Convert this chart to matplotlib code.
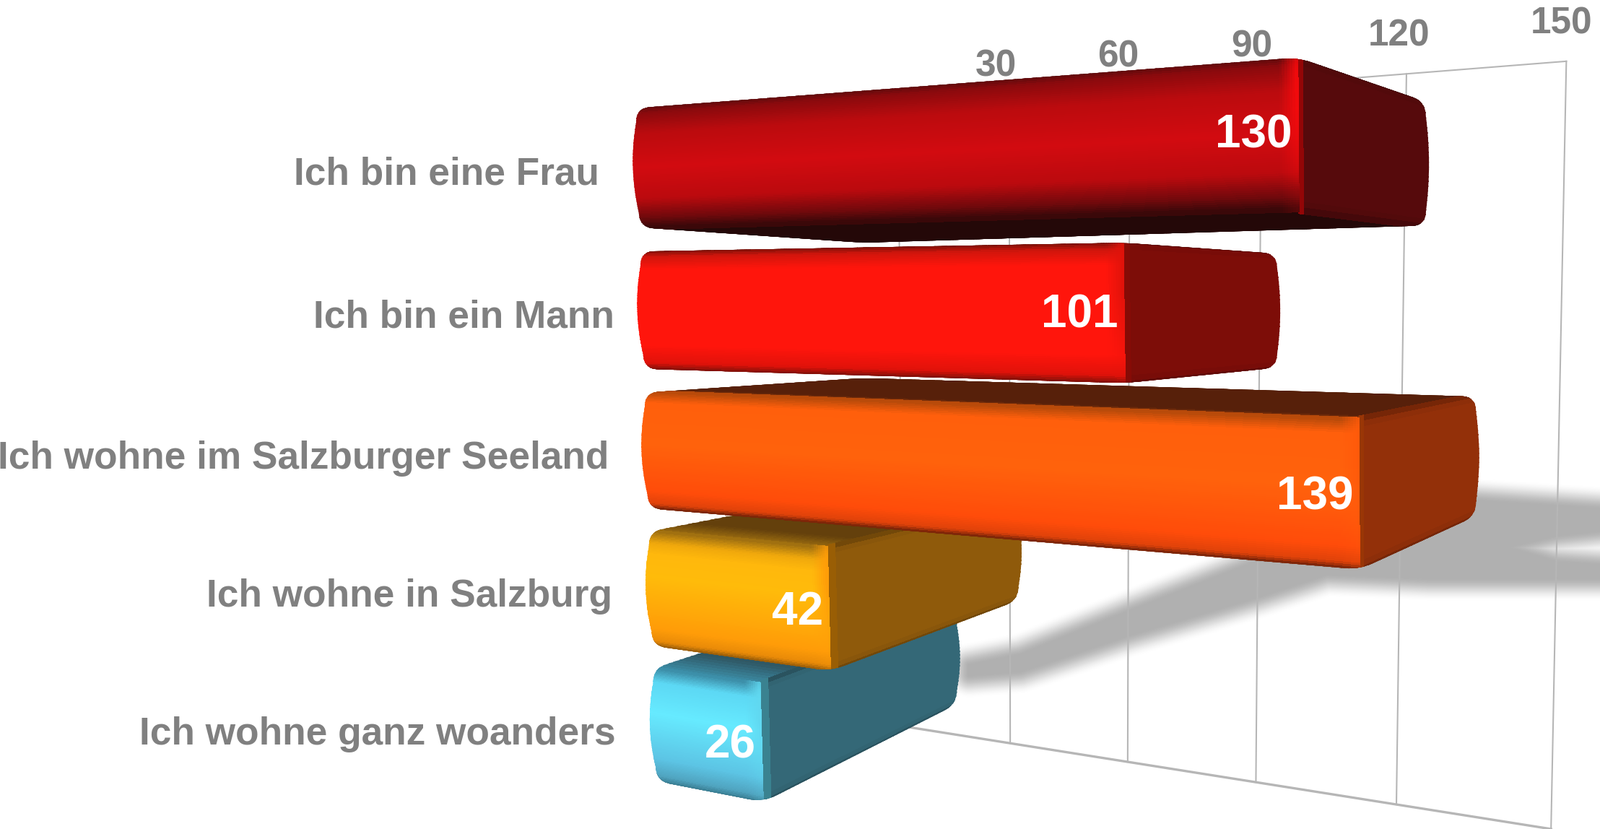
import numpy as np
import matplotlib
matplotlib.use("Agg")
import matplotlib.pyplot as plt
from matplotlib.collections import PolyCollection
from matplotlib.colors import to_rgb
from matplotlib.path import Path
from matplotlib.patches import Polygon

# ---- data ----
categories = ["Ich bin eine Frau", "Ich bin ein Mann", "Ich wohne im Salzburger Seeland",
              "Ich wohne in Salzburg", "Ich wohne ganz woanders"]
values = [130, 101, 139, 42, 26]
ticks = [30, 60, 90, 120, 150]

# ---- style: face colours ----
front_stops = [
    [(0, "#5e0a0c"), (.05, "#8a0a0d"), (.22, "#bb0b0e"), (.5, "#d20b10"), (.76, "#bb0a0e"), (.92, "#70090c"), (1, "#3a0809")],
    [(0, "#7a1008"), (.05, "#d0150c"), (.16, "#ff150c"), (.8, "#ff150c"), (.95, "#e0120a"), (1, "#8a1008")],
    [(0, "#b84a0a"), (.09, "#ff5f0c"), (.45, "#ff620c"), (.85, "#ff4c0a"), (.96, "#e0420a"), (1, "#7a2408")],
    [(0, "#a07010"), (.1, "#f0a80c"), (.2, "#ffb80c"), (.4, "#ffbb0a"), (.85, "#ff9c08"), (.96, "#e88a08"), (1, "#a06008")],
    [(0, "#3c8ea8"), (.12, "#5cd8f4"), (.4, "#66eaff"), (.8, "#5cc4e4"), (.95, "#50a4c0"), (1, "#3c8298")],
]
side_colors = ["#560a0c", "#7d0d08", "#933009", "#8f5a0b", "#346877"]
top_colors = ["#3a0809", "#5a0c08", "#57200a", "#64400c", "#2f5865"]
bottom_colors = ["#240808", "#5a0c08", "#6e2408", "#7a4a0a", "#2f5865"]
edge_colors = ["#f50a0c", "#e0120a", "#ff5a0a", "#ff9c08", "#60d8f0"]
GREY = "#808080"
GRID = "#b6b6b6"
SHADOW = "#b0b0b0"

# ---- layout (canvas units are the 1568x812 view) ----
THICK = 0.83
S = 4 + THICK
label_right = [587, 602, 597, 600, 603]
label_y = [171, 311, 449, 584, 719]


def homography(src, dst):
    A = []
    for (u, v), (x, y) in zip(src, dst):
        A.append([u, v, 1, 0, 0, 0, -u * x, -v * x, -x])
        A.append([0, 0, 0, u, v, 1, -u * y, -v * y, -y])
    return np.linalg.svd(np.array(A, float))[2][-1].reshape(3, 3)


def apply(H, u, v):
    u, v = np.asarray(u, float), np.asarray(v, float)
    w = H[2, 0] * u + H[2, 1] * v + H[2, 2]
    return np.stack([(H[0, 0] * u + H[0, 1] * v + H[0, 2]) / w,
                     (H[1, 0] * u + H[1, 1] * v + H[1, 2]) / w], axis=-1)


def warp(s, a):
    f = np.asarray(s, float) / S
    return S * f * (1 + a) / (1 + a * f)


domain = [(0, 0), (0, S), (139, 0), (139, S)]
H_front = homography(domain, [(623, 106), (643, 765), (1330, 52), (1334, 900)])
H_back = homography(domain, [(846, 141), (846, 674), (1446, 96), (1447, 776)])
H_wall = homography([(30, 0), (30, 1), (150, 0), (150, 1)],
                    [(989, 103), (990, 728), (1535, 60), (1520, 812)])
H_rail = homography([(30, 0), (30, 1), (150, 0), (150, 1)],
                    [(976, 65), (976, 165), (1530, 23), (1530, 143.7)])


def front_pt(u, s):
    return apply(H_front, u, warp(s, .012))


def back_pt(u, s):
    return apply(H_back, u, warp(s, .07))


def mix(a, b, k):
    return a + (b - a) * k


def gradient(stops, t):
    xs = [p for p, _ in stops]
    cs = np.array([to_rgb(c) for _, c in stops])
    return np.stack([np.interp(t, xs, cs[:, i]) for i in range(3)], axis=-1)


def grid_quads(P):
    a, b, c, d = P[:-1, :-1], P[1:, :-1], P[1:, 1:], P[:-1, 1:]
    return np.stack([a, b, c, d], axis=-2).reshape(-1, 4, 2)


def convex_hull(pts):
    pts = sorted(map(tuple, pts))
    def half(seq):
        out = []
        for p in seq:
            while len(out) > 1 and ((out[-1][0] - out[-2][0]) * (p[1] - out[-2][1]) -
                                    (out[-1][1] - out[-2][1]) * (p[0] - out[-2][0])) <= 0:
                out.pop()
            out.append(p)
        return out[:-1]
    return np.array(half(pts) + half(pts[::-1]))


def rounded_outline(hull, r=14, bulge_left=4.5, bulge_right=3):
    n = len(hull)
    c = hull.mean(0)

    def bow(p, q):
        m = (p + q) / 2
        b = bulge_left if m[0] < c[0] else bulge_right
        return m + np.array([np.sign(m[0] - c[0]) * b * 2, 0])

    def steep(d):
        return abs(d[1]) > abs(d[0]) * 2

    verts, codes = [], []
    for i in range(n):
        p0, p1, p2 = hull[i - 1], hull[i], hull[(i + 1) % n]
        d0 = p0 - p1
        d2 = p2 - p1
        r0 = min(r, np.hypot(*d0) * .4)
        r2 = min(r, np.hypot(*d2) * .4)
        a = p1 + d0 / np.hypot(*d0) * r0
        b = p1 + d2 / np.hypot(*d2) * r2
        if i == 0:
            verts.append(a); codes.append(Path.MOVETO)
        elif steep(d0):
            verts += [bow(p0, p1), a]; codes += [Path.CURVE3, Path.CURVE3]
        else:
            verts.append(a); codes.append(Path.LINETO)
        verts += [p1, b]; codes += [Path.CURVE3, Path.CURVE3]
    first = verts[0]
    d = hull[-1] - hull[0]
    if steep(d):
        verts += [bow(hull[-1], hull[0]), first]; codes += [Path.CURVE3, Path.CURVE3]
    else:
        verts.append(first); codes.append(Path.LINETO)
    return Path(np.array(verts), codes)


fig = plt.figure(figsize=(22.16, 11.48), dpi=100, facecolor="white")
ax = fig.add_axes([0, 0, 1, 1])
ax.set_xlim(0, 1568)
ax.set_ylim(812, 0)
ax.axis("off")
plt.rcParams["font.family"] = ["Liberation Sans", "DejaVu Sans"]

# ---- soft cast shadow on the wall (decoration): opaque layers from white to grey ----
shadow = [(950, 652), (1000, 642), (1105, 600), (1233, 550), (1330, 525), (1445, 491),
          (1600, 501), (1600, 516), (1525, 524), (1475, 536), (1525, 551), (1600, 556),
          (1600, 566), (1400, 566), (1300, 562), (1233, 584), (1105, 622), (1000, 657), (950, 661)]
n_layers = 30
white = np.ones(3)
grey = np.array(to_rgb(SHADOW))
for k, w in enumerate(np.linspace(46, 0, n_layers)):
    f = (k + 1) / n_layers
    col = mix(white, grey, f * f * (3 - 2 * f))
    ax.add_patch(Polygon(shadow, closed=True, fc=col, ec=col, lw=w,
                         joinstyle="round", zorder=1))

# ---- wall, gridlines ----
vv = np.array([0, 150])
for t in [0] + ticks:
    p = apply(H_wall, [t, t], [0, 1])
    ax.plot(p[:, 0], p[:, 1], color=GRID, lw=1.5, zorder=2)
for s, lw in [(0, 1.5), (1, 2.4)]:
    p = apply(H_wall, vv, [s, s])
    ax.plot(p[:, 0], p[:, 1], color=GRID, lw=lw, zorder=2)
for t in ticks:
    x, y = apply(H_rail, t, 0)
    ax.text(x, y, str(t), color=GREY, fontsize=37, fontweight="bold", ha="center", va="center",
            zorder=20)

# ---- the bars: nearest to the eye drawn last ----
order = [4, 3, 2, 1, 0]
base_z = 5
for row in order:
    v = values[row]
    s0, s1 = row, row + THICK
    side = np.array(to_rgb(side_colors[row]))
    corners = np.vstack([front_pt(np.array([0, 0, v, v]), np.array([s0, s1, s0, s1])),
                         back_pt(np.array([0, 0, v, v]), np.array([s0, s1, s0, s1]))])
    outline = rounded_outline(convex_hull(corners))
    z = base_z + (4 - row)

    def add(quads, cols):
        pc = PolyCollection(quads, facecolors=cols, edgecolors=cols, linewidths=.4,
                            antialiaseds=False, zorder=z)
        ax.add_collection(pc)
        pc.set_clip_path(outline, ax.transData)

    # top and bottom faces
    dd = np.linspace(0, 1.03, 40)
    uu = np.linspace(-3, v, 24)
    for s, col, front_c in [(s0, top_colors[row], front_stops[row][0][1]),
                            (s1, bottom_colors[row], bottom_colors[row])]:
        U = np.tile(uu, (len(dd), 1))
        Pf = front_pt(U, np.full_like(U, s))
        Pb = back_pt(U, np.full_like(U, s))
        P = Pf + (Pb - Pf) * dd[:, None, None]
        k = np.clip(dd[:-1] / .2, 0, 1)[:, None]
        cols = mix(np.array(to_rgb(front_c)), np.array(to_rgb(col)), k[:, None])
        cols = np.repeat(cols, len(uu) - 1, axis=1).reshape(-1, 3)
        add(grid_quads(P), cols)

    # right-hand side face
    tt = np.linspace(-.03, 1.03, 28)
    dd = np.linspace(0, 1.03, 24)
    T = np.tile(tt, (len(dd), 1))
    Pf = front_pt(np.full_like(T, v), s0 + T * THICK)
    Pb = back_pt(np.full_like(T, v), s0 + T * THICK)
    P = Pf + (Pb - Pf) * dd[:, None, None]
    k = np.clip(dd[:-1] / .025, 0, 1)[:, None]
    ends = np.clip(np.minimum(tt[:-1] + .03, 1.03 - tt[1:]) / .05, 0, 1)[None, :]
    base = side * (.8 + .2 * ends[..., None])
    cols = mix(np.array(to_rgb(edge_colors[row])) * .6, base, k[..., None])
    add(grid_quads(P), cols.reshape(-1, 3))

    # front face
    length = front_pt(v, s0)[0] - front_pt(0, s0)[0]
    uu = np.concatenate([np.linspace(-3, v * (1 - 16 / length), 20),
                         np.linspace(v * (1 - 14 / length), v, 8)])
    tt = np.linspace(-.02, 1.02, 70)
    U, T = np.meshgrid(uu, tt, indexing="ij")
    P = front_pt(U, s0 + T * THICK)
    tc = (tt[:-1] + tt[1:]) / 2
    col_t = gradient(front_stops[row], np.clip(tc, 0, 1))
    uc = (uu[:-1] + uu[1:]) / 2
    edge = np.clip((uc - v * (1 - 14 / length)) / (v * 14 / length), 0, 1)[:, None, None]
    fade = np.clip(1.2 - abs(tc - .22) * 1.6, .15, 1)[None, :, None]
    cols = mix(col_t[None, :, :], np.array(to_rgb(edge_colors[row])), edge * fade)
    add(grid_quads(P), cols.reshape(-1, 3))

    # value label, inside the bar's end
    x, y = front_pt(v, row + THICK / 2)
    ax.text(x - 6, y + 2, str(v), color="white", fontsize=46, fontweight="bold", ha="right",
            va="center", zorder=z + .5)

# ---- category labels ----
for name, xr, y in zip(categories, label_right, label_y):
    ax.text(xr, y, name, color=GREY, fontsize=38.3, fontweight="bold", ha="right", va="center",
            zorder=30)

fig.savefig("out.png", dpi=100, facecolor="white")
